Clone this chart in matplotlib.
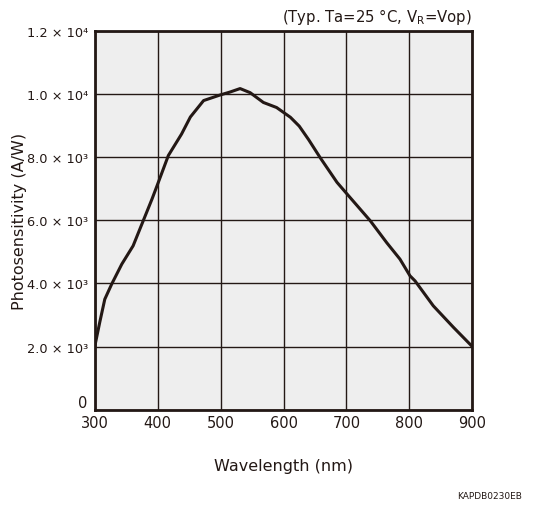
"""Photosensitivity vs wavelength."""

import numpy as np
from matplotlib import pyplot as plt

INK = '#231815'

wavelength = [300, 308, 316, 327, 343, 361, 377, 391, 399, 417, 438, 452,
              473, 499, 515, 531, 547, 568, 589, 611, 625, 640, 658, 685,
              701, 738, 764, 785, 801, 809, 838, 870, 900]
sensitivity = [2000, 2770, 3500, 3980, 4610, 5190, 5980, 6670, 7090, 8050,
               8730, 9270, 9790, 9965, 10060, 10170, 10040, 9730, 9570,
               9260, 8980, 8550, 7990, 7200, 6830, 5980, 5290, 4770, 4240,
               4080, 3290, 2610, 2000]

xticks = [300, 400, 500, 600, 700, 800, 900]
yticks = [0, 2000, 4000, 6000, 8000, 10000, 12000]
ylabels = ['0', '2.0 × 10³', '4.0 × 10³', '6.0 × 10³', '8.0 × 10³',
           '1.0 × 10⁴', '1.2 × 10⁴']

fig = plt.figure(figsize=(5.37, 5.06), dpi=100)
ax = fig.add_axes([0.1764, 0.1883, 0.7031, 0.7489])
ax.set_facecolor('#eeeeee')

ax.plot(wavelength, sensitivity, color=INK, lw=2.2, zorder=3,
        solid_joinstyle='round')

ax.set_xlim(300, 900)
ax.set_ylim(0, 12000)
ax.set_xticks(xticks)
ax.set_yticks(yticks)
ax.set_xticklabels([str(t) for t in xticks], fontsize=10.5, color=INK)
ax.set_yticklabels(ylabels, fontsize=9.3, color=INK,
                   family=['Liberation Sans Narrow', 'DejaVu Sans'])
ax.tick_params(length=0, pad=4)
ax.tick_params(axis='y', pad=5)
# the "0" label sits on the bottom edge, in the larger font
zero = ax.get_yticklabels()[0]
zero.set_va('bottom')
zero.set_fontsize(10.5)
zero.set_family('DejaVu Sans')
ax.grid(True, color=INK, lw=1.0)
ax.set_axisbelow(True)
for s in ax.spines.values():
    s.set_color(INK)
    s.set_linewidth(2.0)

ax.set_xlabel('Wavelength (nm)', fontsize=11.5, color=INK, labelpad=20)
ax.set_ylabel('Photosensitivity (A/W)', fontsize=11.5, color=INK, labelpad=0)
ax.text(1.0, 1.012, r'(Typ. Ta=25 °C, V$_\mathregular{R}$=Vop)',
        transform=ax.transAxes, ha='right', va='bottom', fontsize=10.7,
        color=INK)
fig.text(522 / 537, 1 - 497 / 506, 'KAPDB0230EB', ha='right', va='center',
         fontsize=6.5, color=INK)

plt.savefig('out.png')
plt.close()
